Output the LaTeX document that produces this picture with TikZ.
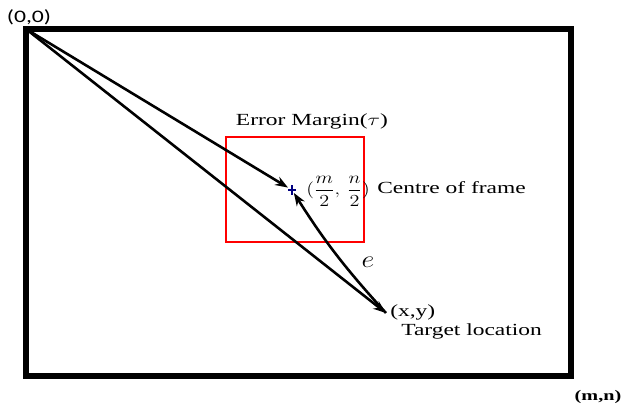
\documentclass[tikz,border=0pt]{standalone}
\usepackage{fontspec}
\setmainfont{Liberation Serif}
\newfontfamily\labelsans{Carlito}
\usetikzlibrary{arrows.meta,calc}

\begin{document}
\begin{tikzpicture}[x=0.03cm,y=-0.03cm,
  vec/.style={line width=2.2pt,-{Stealth[length=11pt,width=8pt]}},
  txt/.style={font=\fontsize{14.5}{16}\selectfont,inner sep=0pt,xscale=1.38}]
\useasboundingbox (0,0) rectangle (627,412);
\coordinate (O) at (26,29); \coordinate (MN) at (571,376); \coordinate (C) at (292,190); \coordinate (T) at (386,313);
% frame and error margin
\draw[line width=5.2pt] (O) rectangle (MN);
\draw[red,line width=1pt] (226,137) rectangle (364,242);
\draw[blue!50!black,line width=1.8pt] ($(C)+(-4,0)$) -- ($(C)+(4,0)$) ($(C)+(0,-5)$) -- ($(C)+(0,5)$);
% vectors
\draw[vec,shorten >=4pt] (O) -- (C);
\draw[vec] (O) -- (T);
\draw[vec,shorten >=3pt] (T) to[bend left=5] (C);
% labels
\node[font=\labelsans\fontsize{15}{17}\selectfont,inner sep=0pt,xscale=1.35] (lO) at (29,17) {(0,0)};
\node[txt,font=\fontsize{12.5}{14}\selectfont\bfseries] (lMN) at (598,397) {(m,n)};
\node[txt] (lerr) at (312,121) {Error Margin($\tau$)};
\node[font=\fontsize{14}{16}\selectfont,inner sep=0pt,anchor=west,xscale=1.2] (lc) at (306,191) {$\displaystyle(\frac{m}{2},\,\frac{n}{2})$};
\node[txt,anchor=west] (lcf) at (377,188) {Centre of frame};
\node[font=\fontsize{21}{23}\selectfont,inner sep=0pt,xscale=1.15] (le) at (368,262) {$e$};
\node[txt,anchor=west] (lxy) at (390,312) {(x,y)};
\node[txt,anchor=west] (ltg) at (401,331) {Target location};
\end{tikzpicture}
\end{document}
